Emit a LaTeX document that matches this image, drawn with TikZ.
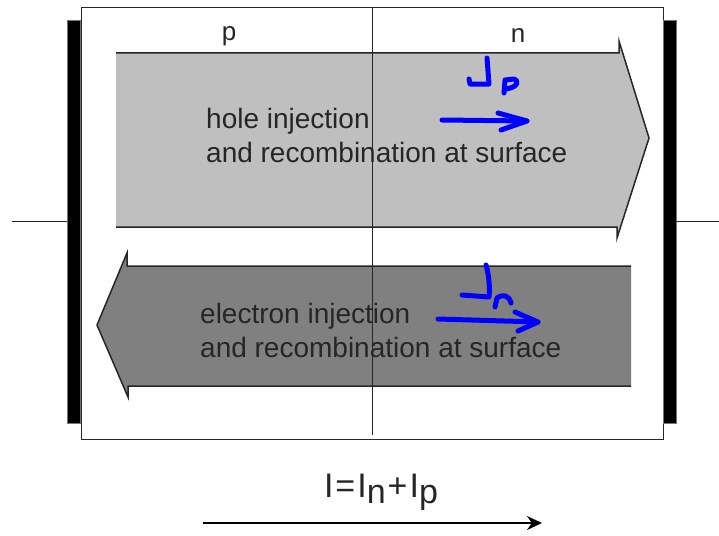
\documentclass[tikz,border=0pt]{standalone}
\usepackage{fontspec}
\setmainfont{Liberation Sans}
\usetikzlibrary{arrows.meta}

\begin{document}
\begin{tikzpicture}[
  x=1pt, y=-1pt,
  txt/.style={text=black!85, font=\fontsize{28}{34}\selectfont, align=left, inner sep=0pt, anchor=base west},
  side/.style={text=black!85, font=\fontsize{26}{30}\selectfont, inner sep=0pt, anchor=base},
  electrode/.style={draw=black!55, fill=black, line width=0.8pt, minimum width=13pt, minimum height=403pt, inner sep=0pt},
  wire/.style={line width=1.3pt, black!85},
  outline/.style={draw=black!85, line width=1.5pt, line join=miter},
  hand/.style={blue, line width=5pt, line cap=round, line join=round},
]
  \useasboundingbox (0,0) rectangle (719,535);

  % Device box and contacts
  \draw[line width=1pt, black!85] (81,8) rectangle (663,439);
  \node[electrode] (elL) at (73.5,221.5) {};
  \node[electrode] (elR) at (669.5,221.5) {};
  \coordinate (wL) at (12,221.5);
  \coordinate (wR) at (719,221.5);
  \draw[wire] (wL) -- (elL.west);
  \draw[wire] (elR.east) -- (wR);

  % Hole current (to the right)
  \fill[black!25] (116,53) -- (619,53) -- (619,41) -- (649,138) -- (617,238) -- (617,227) -- (116,227) -- cycle;
  \draw[outline] (116,53) -- (619,53) -- (619,41) -- (649,138) -- (617,238) -- (617,227) -- (116,227);

  % Electron current (to the left)
  \fill[black!50] (631,266) -- (127,266) -- (127,253) -- (97,325) -- (128,397) -- (128,386) -- (631,386) -- cycle;
  \draw[outline] (631,266) -- (127,266) -- (127,253) -- (97,325) -- (128,397) -- (128,386) -- (631,386);

  % Junction
  \draw[line width=0.8pt, black!85] (372,8) -- (372,435);

  \node[side] (pside) at (229,41) {p};
  \node[side] (nside) at (518,42) {n};

  % base anchor sits on the last line
  \node[txt] (hole) at (206,162) {hole injection\\and recombination at surface};
  \node[txt] (elec) at (200,357) {electron injection\\and recombination at surface};

  % Handwritten J_p, J_n
  \draw[hand] (487,58) -- (489,84) -- (470,84) -- (469,79);
  \draw[hand] (504,93) -- (505,80) -- (514,79) .. controls (519,80) and (519,87) .. (506,89);
  \draw[hand] (442,120) -- (527,121);
  \draw[hand] (498,113) -- (527,121) -- (501,130);

  \draw[hand] (486,265) .. controls (489,275) and (490,288) .. (489,297) -- (462,295);
  \draw[hand] (495,307) -- (497,298) .. controls (503,294) and (509,295) .. (511,303);
  \draw[hand] (438,319) -- (538,322);
  \draw[hand] (515,312) -- (538,322) -- (518,331);

  % Total current
  \node[font=\fontsize{34}{38}\selectfont, text=black!85, inner sep=0pt, anchor=base] (total) at (381,497)
    {I\kern2pt=\kern2ptI\raisebox{-6pt}{n}\kern2pt+\kern2ptI\raisebox{-6pt}{p}};
  \coordinate (iL) at (203,523);
  \coordinate (iR) at (542,523);
  \draw[line width=1.5pt, -{Stealth[length=15pt, width=14pt]}] (iL) -- (iR);
\end{tikzpicture}
\end{document}
